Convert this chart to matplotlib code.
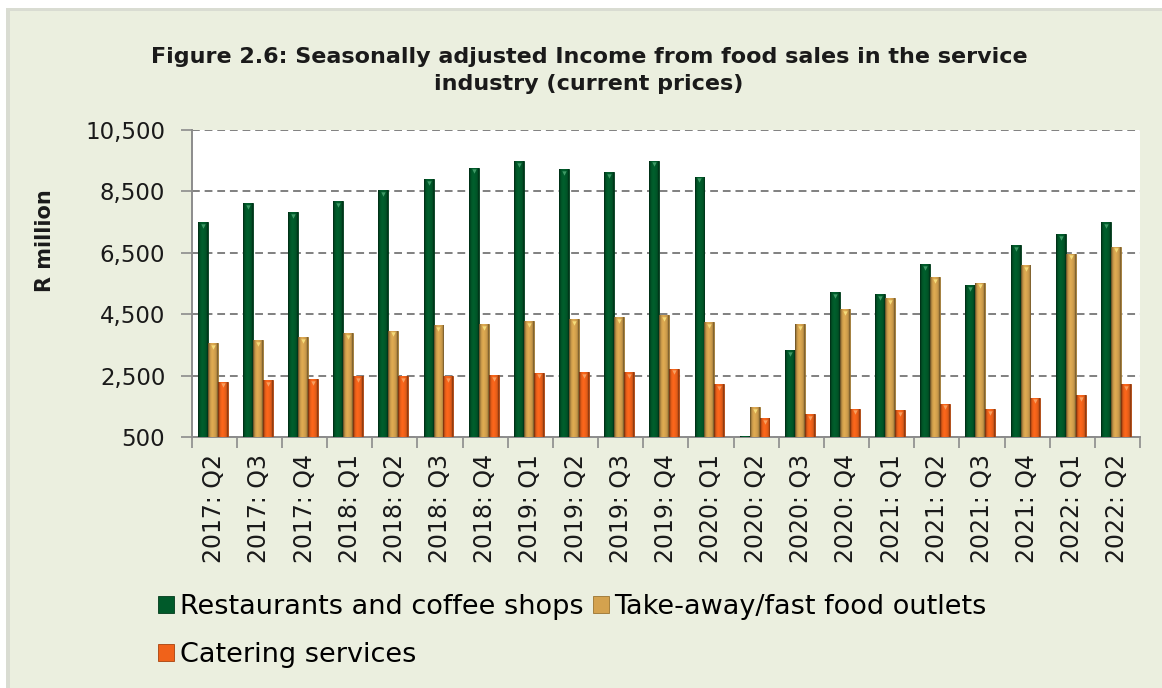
import matplotlib.pyplot as plt
import numpy as np
from matplotlib.patches import Rectangle
from matplotlib.colors import to_rgb

quarters = ["2017: Q2", "2017: Q3", "2017: Q4", "2018: Q1", "2018: Q2", "2018: Q3",
            "2018: Q4", "2019: Q1", "2019: Q2", "2019: Q3", "2019: Q4", "2020: Q1",
            "2020: Q2", "2020: Q3", "2020: Q4", "2021: Q1", "2021: Q2", "2021: Q3",
            "2021: Q4", "2022: Q1", "2022: Q2"]
restaurants = [7510, 8130, 7820, 8180, 8540, 8910, 9270, 9480, 9220, 9120, 9500, 8980,
               530, 3340, 5220, 5150, 6140, 5460, 6750, 7100, 7510]
takeaway = [3570, 3670, 3750, 3890, 3970, 4140, 4180, 4270, 4340, 4400, 4470, 4250,
            1480, 4190, 4680, 5020, 5720, 5530, 6100, 6480, 6700]
catering = [2310, 2350, 2400, 2480, 2480, 2480, 2530, 2600, 2610, 2610, 2730, 2220,
            1120, 1260, 1430, 1380, 1590, 1420, 1790, 1870, 2220]
series_names = ["Restaurants and coffee shops", "Take-away/fast food outlets", "Catering services"]
y_ticks = [500, 2500, 4500, 6500, 8500, 10500]

face_colors = ["#005a2a", "#d4a24e", "#f0621a"]
edge_colors = ["#003a1a", "#9a7430", "#a8420c"]
tip_colors = ["#3f9a66", "#f5dc7a", "#f8a060"]

W, H = 1162, 688
fig = plt.figure(figsize=(W / 100, H / 100), dpi=100)
fig.patch.set_facecolor("white")

# panel background with a soft shadow on its left edge
fig.patches.append(Rectangle((6 / W, 0), 1, (H - 8) / H, transform=fig.transFigure,
                             facecolor="#d9dcd2", edgecolor="none", zorder=-2))
fig.patches.append(Rectangle((10 / W, 0), 1, (H - 11) / H, transform=fig.transFigure,
                             facecolor="#ebefdf", edgecolor="none", zorder=-1))

left, right, top, bottom = 191.7, 1140, 130, 437.3
ax = fig.add_axes([left / W, (H - bottom) / H, (right - left) / W, (bottom - top) / H])
ax.set_zorder(2)
ax.set_facecolor("white")

y_min, y_max = y_ticks[0], y_ticks[-1]
ax.set_xlim(-0.5, len(quarters) - 0.5)
ax.set_ylim(y_min, y_max)

# horizontal shading across each bar: darker rims, lighter body
profile = np.array([0.55, 0.8, 0.95, 1.02, 1.05, 1.03, 1.0, 0.95, 0.85, 0.62])

x = np.arange(len(quarters))
bw = 0.22
shift = -0.035
handles = []
for i, (vals, fc, ec, tc, name) in enumerate(zip([restaurants, takeaway, catering],
                                                 face_colors, edge_colors, tip_colors,
                                                 series_names)):
    pos = x + shift + (i - 1) * bw
    bars = ax.bar(pos, vals, width=bw, color=fc, edgecolor=ec, linewidth=0.6,
                  label=name, zorder=3)
    handles.append(bars)
    base = np.array(to_rgb(fc))
    grad = np.clip(base[None, None, :] * profile[None, :, None], 0, 1)
    for rect in bars:
        x0 = rect.get_x()
        h = rect.get_height()
        if h <= y_min:
            continue
        im = ax.imshow(grad, extent=[x0, x0 + rect.get_width(), y_min, h],
                       aspect="auto", interpolation="bilinear", zorder=3.5)
        im.set_clip_path(rect)
    ax.scatter(pos, np.array(vals) - 120, marker="v", s=10, color=tc, linewidths=0,
               zorder=4, clip_on=True)

ax.set_xlim(-0.5, len(quarters) - 0.5)
ax.set_ylim(y_min, y_max)
ax.set_yticks(y_ticks)
ax.set_yticklabels([f"{v:,}" for v in y_ticks], fontsize=16.5, color="#1a1a1a")
ax.yaxis.grid(True, linestyle=(0, (4, 2.5)), color="#808080", linewidth=1.4, zorder=1)
ax.tick_params(axis="y", length=8, width=1.2, color="#8c8c8c", pad=11)

ax.set_xticks(x)
ax.set_xticklabels(quarters, rotation=90, fontsize=17, color="#1a1a1a")
ax.set_xticks(np.arange(-0.5, len(quarters), 1), minor=True)
ax.tick_params(axis="x", which="major", length=0, pad=12)
ax.tick_params(axis="x", which="minor", length=8, width=1.2, color="#8c8c8c")

for s in ["top", "right"]:
    ax.spines[s].set_visible(False)
for s in ["left", "bottom"]:
    ax.spines[s].set_color("#8c8c8c")
    ax.spines[s].set_linewidth(1.4)

fig.text(589 / W, 1 - 57 / H, "Figure 2.6: Seasonally adjusted Income from food sales in the service",
         ha="center", va="center", fontsize=16, fontweight="bold", color="#1a1a1a")
fig.text(589 / W, 1 - 84 / H, "industry (current prices)",
         ha="center", va="center", fontsize=16, fontweight="bold", color="#1a1a1a")
fig.text(45 / W, 1 - 241 / H, "R million", rotation=90, ha="center", va="center",
         fontsize=15, fontweight="bold", color="#1a1a1a")

# row-major order: first row Restaurants + Take-away, second row Catering
order = [0, 2, 1]
fig.legend([handles[k] for k in order], [series_names[k] for k in order],
           loc="upper left", bbox_to_anchor=(158 / W, 1 - 594 / H), ncol=2,
           frameon=False, fontsize=19.5, handlelength=0.6, handleheight=0.6,
           handletextpad=0.2, columnspacing=0.35, labelspacing=0.82,
           borderaxespad=0, borderpad=0)

fig.savefig("out.png", dpi=100, facecolor=fig.get_facecolor())
